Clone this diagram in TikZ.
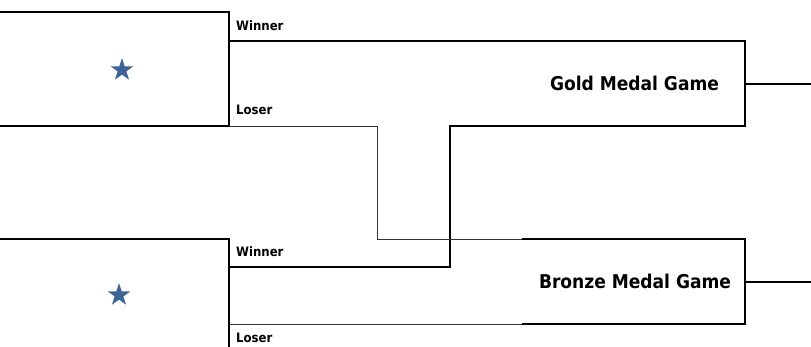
\documentclass[tikz,border=0pt]{standalone}
\usepackage{fontspec}
\setmainfont{DejaVu Sans Condensed}
\usetikzlibrary{shapes.geometric}
\definecolor{starblue}{HTML}{3E6496}
\tikzset{
  thickline/.style={line width=1.7pt, line cap=rect},
  thinline/.style={line width=0.9pt, black!80},
  small/.style={font=\bfseries\fontsize{13}{15}\selectfont, anchor=base west, inner sep=0},
  big/.style={font=\bfseries\fontsize{19}{22}\selectfont, anchor=base, inner sep=0},
  starmark/.style={star, star points=5, star point ratio=2.6, fill=starblue, minimum size=24pt, inner sep=0}
}
\begin{document}
\begin{tikzpicture}[x=1pt,y=-1pt]
\useasboundingbox (0,0) rectangle (811,347);
% coordinates
\coordinate (tl) at (0,12);
\coordinate (tr) at (229,12);
\coordinate (bl) at (0,126);
\coordinate (br) at (229,126);
\coordinate (gw) at (229,41);
\coordinate (gtr) at (745,41);
\coordinate (gbr) at (745,126);
\coordinate (gbl) at (450,126);
\coordinate (bwin) at (450,267);
\coordinate (bwl) at (229,267);
\coordinate (lturn) at (377,126);
\coordinate (ldown) at (377,239);
\coordinate (btl) at (523,239);
\coordinate (btr) at (745,239);
\coordinate (bbr) at (745,324);
\coordinate (bbl) at (523,324);
\coordinate (lbl) at (229,324);
\coordinate (b2l) at (0,239);
\coordinate (b2r) at (229,239);
\coordinate (b2b) at (229,347);
\coordinate (gout) at (745,84);
\coordinate (goutr) at (811,84);
\coordinate (bout) at (745,282);
\coordinate (boutr) at (811,282);

% top semifinal bracket
\draw[thickline] (tl) -- (tr) -- (br) -- (bl);
% bottom semifinal bracket
\draw[thickline] (b2l) -- (b2r) -- (b2b);
% gold medal game
\draw[thickline] (gw) -- (gtr) -- (gbr) -- (gbl) -- (bwin) -- (bwl);
\draw[thickline] (gout) -- (goutr);
% loser paths
\draw[thinline] (br) -- (lturn) -- (ldown) -- (btl);
\draw[thinline] (lbl) -- (bbl);
% bronze medal game
\draw[thickline] (btl) -- (btr) -- (bbr) -- (bbl);
\draw[thickline] (bout) -- (boutr);

% labels
\node[small] (w1) at (236,31) {Winner};
\node[small] (l1) at (236,115) {Loser};
\node[small] (w2) at (236,257) {Winner};
\node[small] (l2) at (236,342) {Loser};
\node[big] (gold) at (634.5,91) {Gold Medal Game};
\node[big] (bronze) at (635,289) {Bronze Medal Game};

% stars
\node[starmark] (s1) at (122,70) {};
\node[starmark] (s2) at (119,295) {};
\end{tikzpicture}
\end{document}
